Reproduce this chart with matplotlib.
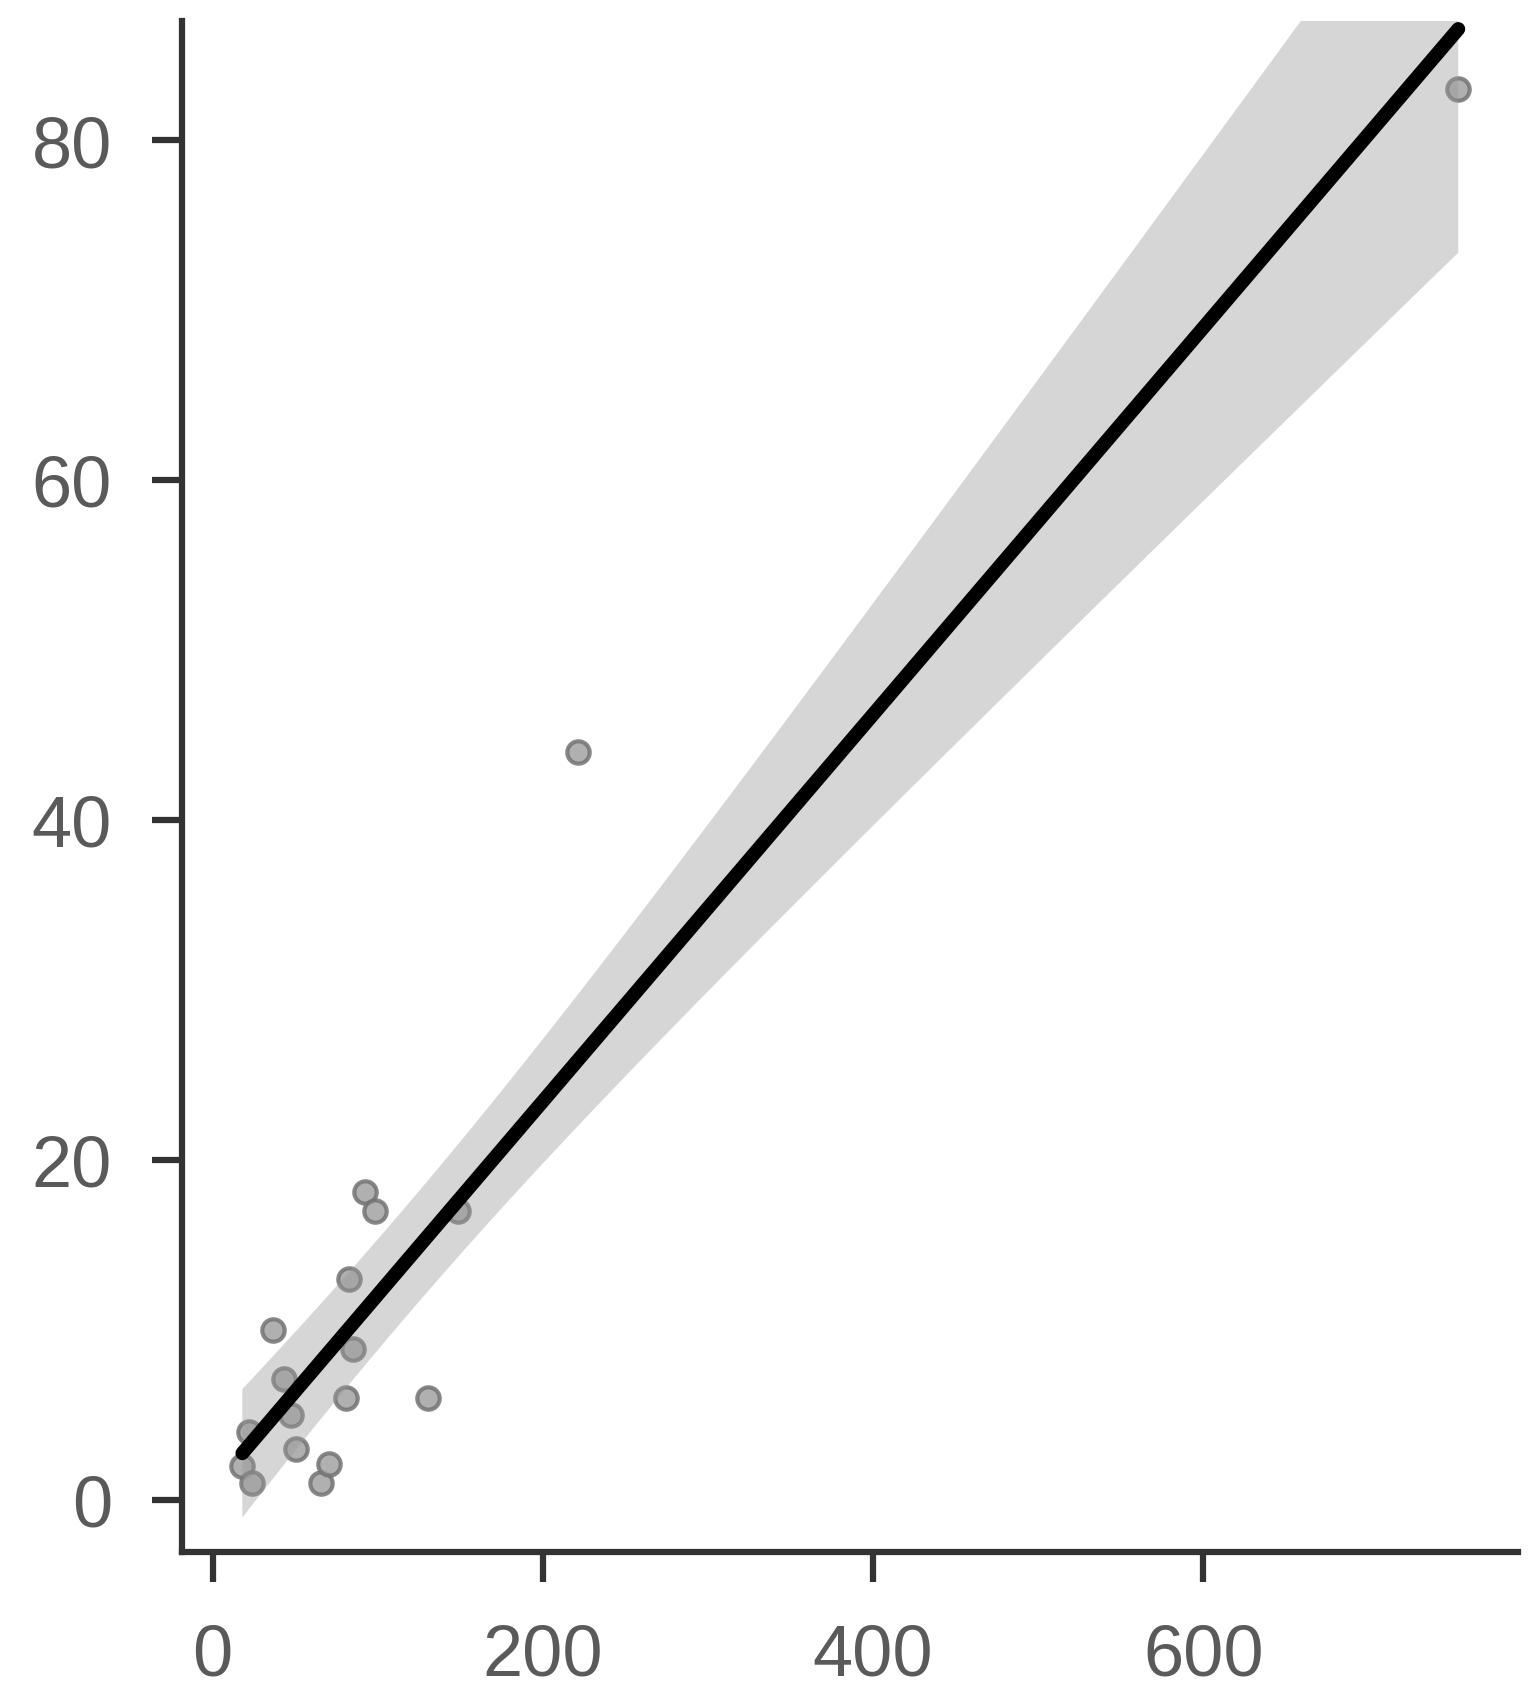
import numpy as np
from matplotlib import pyplot as plt

# points
x_vals = [18, 22, 24, 36.8, 43.2, 47.2, 50.3, 65.4, 70.4, 80.6, 82.6, 85.2,
          92.2, 98.3, 130.4, 148.4, 221.4, 754.3]
y_vals = [2.0, 4.0, 1.0, 10.0, 7.1, 5.0, 3.0, 1.0, 2.1, 6.0, 13.0, 8.9,
          18.1, 17.0, 6.0, 17.0, 44.0, 83.0]
x_ticks = [0, 200, 400, 600]
y_ticks = [0, 20, 40, 60, 80]

def lm_plot():
    x = np.array(x_vals)
    y = np.array(y_vals)
    n = len(x)
    slope, intercept = np.polyfit(x, y, 1)
    resid = y - (intercept + slope * x)
    s = np.sqrt(np.sum(resid ** 2) / (n - 2))
    sxx = np.sum((x - x.mean()) ** 2)
    t_val = 2.12  # t(0.975, df=16)

    xs = np.linspace(x.min(), x.max(), 200)
    fit = intercept + slope * xs
    se = s * np.sqrt(1 / n + (xs - x.mean()) ** 2 / sxx)

    fig = plt.figure(figsize=(15.39, 17.06), dpi=100)
    ax = fig.add_axes([0.1183, 0.0897, 0.8681, 0.8974])

    ax.scatter(x, y, s=260, facecolor='#a3a3a3', edgecolor='#737373',
               linewidth=3, alpha=0.85, zorder=1)
    ax.fill_between(xs, fit - t_val * se, fit + t_val * se,
                    color='#999999', alpha=0.4, linewidth=0, zorder=2)
    ax.plot(xs, fit, color='black', linewidth=10, solid_capstyle='round', zorder=3)

    ax.set_xlim(-18.5, 790.5)
    ax.set_ylim(-3.06, 87.0)
    ax.set_xticks(x_ticks)
    ax.set_yticks(y_ticks)

    for side in ['top', 'right']:
        ax.spines[side].set_visible(False)
    for side in ['left', 'bottom']:
        ax.spines[side].set_linewidth(4.5)
        ax.spines[side].set_color('#333333')
    ax.tick_params(length=21.5, width=4.5, color='#333333', labelcolor='#5a5a5a',
                   labelsize=52, pad=29)
    for lab in ax.get_xticklabels() + ax.get_yticklabels():
        lab.set_family(['Liberation Sans Narrow', 'Liberation Sans', 'DejaVu Sans'])

    fig.savefig('out.png', dpi=100)

lm_plot()
